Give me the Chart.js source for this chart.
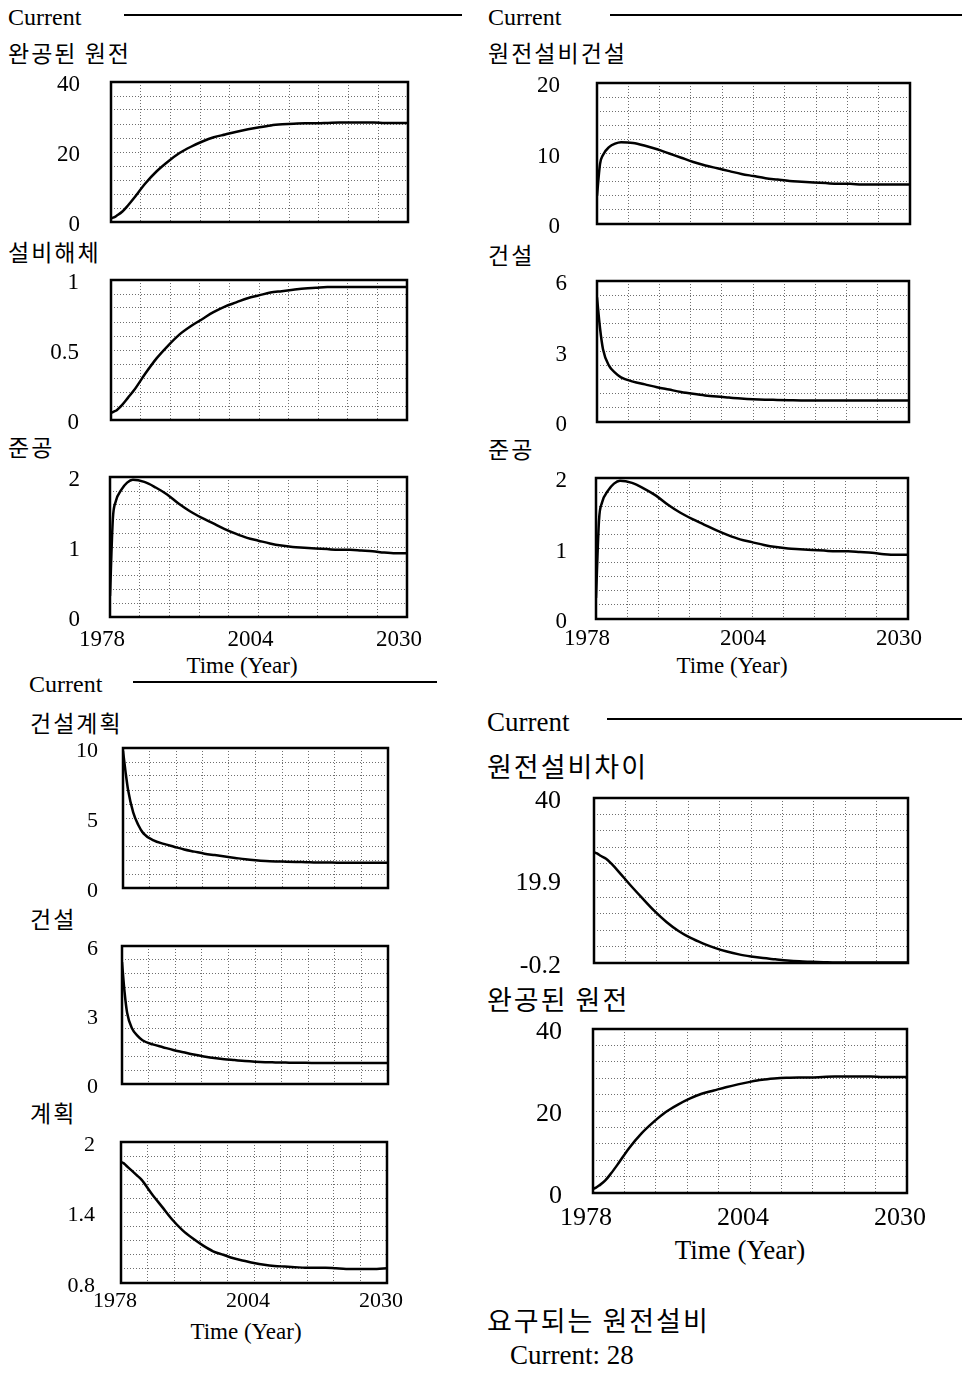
<!DOCTYPE html>
<html>
<head>
<meta charset="utf-8">
<script src="https://cdn.jsdelivr.net/npm/chart.js@4.4.0/dist/chart.umd.min.js"></script>
<style>
  body { margin: 0; background: #fff; width: 965px; height: 1373px; position: relative; overflow: hidden; }
  .t { position: absolute; font-family: "Liberation Serif", serif; color: #000; white-space: nowrap; line-height: 1; transform: translateY(-50%); }
  .k { font-family: "Noto Sans CJK KR", sans-serif; letter-spacing: 2px; }
  .c { transform: translate(-50%, -50%); }
  .ln { position: absolute; height: 0; border-top: 2px solid #000; }
  canvas { position: absolute; }
</style>
</head>
<body>
<script>
// time axis (Year)
const years = [1978, 1978.5, 1979, 1980, 1981, 1982, 1984, 1986, 1988, 1990, 1992, 1994, 1996, 1998,
  2000, 2002, 2004, 2006, 2008, 2010, 2012, 2014, 2016, 2018, 2020, 2022, 2024, 2026, 2028, 2030];
const yearTicks = ["1978", "2004", "2030"];

// 완공된 원전
const completedPlants = [1.0, 1.3, 1.8, 3.0, 4.8, 6.8, 11.0, 14.5, 17.3, 19.7, 21.5, 23.0, 24.2, 25.0,
  25.8, 26.5, 27.1, 27.6, 27.9, 28.1, 28.2, 28.2, 28.3, 28.4, 28.4, 28.4, 28.4, 28.3, 28.3, 28.3];
const completedTicks = ["0", "20", "40"];

// 설비해체
const retirement = [0.05, 0.06, 0.07, 0.11, 0.16, 0.21, 0.33, 0.44, 0.53, 0.61, 0.67, 0.72, 0.77, 0.81,
  0.84, 0.87, 0.89, 0.91, 0.92, 0.93, 0.94, 0.945, 0.95, 0.95, 0.95, 0.95, 0.95, 0.95, 0.95, 0.95];
const retirementTicks = ["0", "0.5", "1"];

// 준공
const completion = [0.3, 1.4, 1.65, 1.82, 1.92, 1.96, 1.93, 1.85, 1.75, 1.62, 1.51, 1.42, 1.34, 1.26,
  1.19, 1.13, 1.09, 1.05, 1.02, 1.0, 0.99, 0.98, 0.97, 0.96, 0.96, 0.95, 0.94, 0.92, 0.91, 0.91];
const completionTicks = ["0", "1", "2"];

// 원전설비건설
const plantConstruction = [4.0, 8.5, 9.8, 10.9, 11.4, 11.6, 11.5, 11.1, 10.6, 10.0, 9.4, 8.8, 8.3, 7.9,
  7.5, 7.1, 6.8, 6.5, 6.3, 6.1, 6.0, 5.9, 5.8, 5.7, 5.7, 5.6, 5.6, 5.6, 5.6, 5.6];
const plantConstructionTicks = ["0", "10", "20"];

// 건설
const construction = [5.3, 4.0, 3.1, 2.4, 2.1, 1.9, 1.72, 1.6, 1.48, 1.38, 1.28, 1.2, 1.13, 1.08,
  1.04, 1.0, 0.97, 0.95, 0.94, 0.93, 0.92, 0.92, 0.91, 0.91, 0.91, 0.91, 0.91, 0.91, 0.91, 0.91];
const constructionTicks = ["0", "3", "6"];

// 건설계획
const constructionPlan = [9.8, 8.3, 7.0, 5.4, 4.5, 3.9, 3.4, 3.15, 2.95, 2.75, 2.6, 2.45, 2.35, 2.25,
  2.15, 2.05, 1.98, 1.93, 1.9, 1.88, 1.86, 1.84, 1.82, 1.82, 1.81, 1.81, 1.8, 1.8, 1.8, 1.8];
const constructionPlanTicks = ["0", "5", "10"];

// 계획
const plan = [1.83, 1.82, 1.8, 1.76, 1.72, 1.68, 1.56, 1.45, 1.34, 1.25, 1.18, 1.12, 1.07, 1.04,
  1.01, 0.99, 0.97, 0.955, 0.945, 0.94, 0.935, 0.93, 0.93, 0.93, 0.925, 0.92, 0.92, 0.92, 0.92, 0.925];
const planTicks = ["0.8", "1.4", "2"];

// 원전설비차이
const plantGap = [26.8, 26.5, 26.0, 25.2, 23.8, 22.2, 18.8, 15.6, 12.5, 9.8, 7.6, 5.9, 4.6, 3.5,
  2.6, 1.9, 1.4, 1.0, 0.7, 0.4, 0.2, 0.1, 0.0, -0.1, -0.1, -0.1, -0.1, -0.1, -0.1, -0.1];
const plantGapTicks = ["-0.2", "19.9", "40"];

// space round each plot box inside its canvas
const L = 90, T = 22, R = 40, BX = 46, B0 = 22;

const framePlugin = {
  id: "frame",
  afterDatasetsDraw(chart) {
    const { ctx, chartArea: a } = chart;
    ctx.save();
    ctx.lineWidth = 2.5;
    ctx.strokeStyle = "#000";
    ctx.strokeRect(a.left, a.top, a.right - a.left, a.bottom - a.top);
    ctx.restore();
  }
};

// keep label overflow from shrinking the plot box
function noOverflow(s) {
  s.paddingTop = 0;
  s.paddingBottom = 0;
  s.paddingLeft = 0;
  s.paddingRight = 0;
}

function drawPanel(p) {
  const [bx, by, bw, bh] = p.box;
  const canvas = document.createElement("canvas");
  canvas.width = bw + L + R;
  canvas.height = bh + T + (p.showX ? BX : B0);
  canvas.style.left = bx - L + "px";
  canvas.style.top = by - T + "px";
  document.body.appendChild(canvas);

  const yMin = Number(p.yTicks[0]);
  const yMax = Number(p.yTicks[2]);
  const tickFont = { family: "Liberation Serif", size: p.font };
  const grid = { color: "#6e6e6e", lineWidth: 1, drawTicks: false };
  const border = { display: false, dash: [1, 2] };

  return new Chart(canvas, {
    type: "line",
    data: {
      datasets: [{
        data: years.map((x, i) => ({ x, y: p.values[i] })),
        borderColor: "#000",
        borderWidth: 2.5,
        pointRadius: 0,
        cubicInterpolationMode: "monotone",
        fill: false
      }]
    },
    options: {
      responsive: false,
      animation: false,
      devicePixelRatio: 1,
      layout: { padding: { left: 0, top: T, right: R, bottom: p.showX ? 0 : B0 } },
      plugins: { legend: { display: false }, tooltip: { enabled: false } },
      scales: {
        x: {
          type: "linear", min: 1978, max: 2030, grid, border,
          afterFit: (s) => { s.height = p.showX ? BX : 0; noOverflow(s); },
          ticks: {
            display: !!p.showX, stepSize: 5.2, autoSkip: false, maxRotation: 0,
            color: "#000", font: tickFont, padding: p.xPad || 0, labelOffset: p.xShift || 0,
            callback: (v, i) => (i % 5 === 0 ? yearTicks[i / 5] || "" : "")
          }
        },
        y: {
          type: "linear", min: yMin, max: yMax, grid, border,
          afterFit: (s) => { s.width = L; noOverflow(s); },
          ticks: {
            stepSize: (yMax - yMin) / 10, autoSkip: false,
            color: "#000", font: tickFont, padding: p.yPad, labelOffset: 3,
            callback: (v, i) => (i % 5 === 0 ? p.yTicks[i / 5] || "" : "")
          }
        }
      }
    },
    plugins: [framePlugin]
  });
}

const panels = [
  { box: [111, 82, 297, 140], values: completedPlants, yTicks: completedTicks, font: 23, yPad: 31 },
  { box: [111, 280, 296, 140], values: retirement, yTicks: retirementTicks, font: 23, yPad: 32 },
  { box: [110, 477, 297, 140], values: completion, yTicks: completionTicks, font: 23, yPad: 30, showX: true, xPad: 9, xShift: -8 },
  { box: [597, 83, 313, 141], values: plantConstruction, yTicks: plantConstructionTicks, font: 23, yPad: 37 },
  { box: [597, 281, 312, 141], values: construction, yTicks: constructionTicks, font: 23, yPad: 30 },
  { box: [596, 478, 312, 141], values: completion, yTicks: completionTicks, font: 23, yPad: 29, showX: true, xPad: 6, xShift: -9 },
  { box: [123, 748, 265, 140], values: constructionPlan, yTicks: constructionPlanTicks, font: 22, yPad: 25 },
  { box: [122, 946, 266, 138], values: construction, yTicks: constructionTicks, font: 22, yPad: 24 },
  { box: [121, 1142, 266, 141], values: plan, yTicks: planTicks, font: 22, yPad: 26, showX: true, xPad: 5, xShift: -6 },
  { box: [594, 798, 314, 165], values: plantGap, yTicks: plantGapTicks, font: 26, yPad: 33 },
  { box: [593, 1029, 314, 164], values: completedPlants, yTicks: completedTicks, font: 26, yPad: 31, showX: true, xPad: 10, xShift: -7 }
];

// [text, x, y(centre), size, kind]  kind: k = Korean, c = centred
const texts = [
  ["Current", 8, 17, 24, ""],
  ["완공된 원전", 8, 52, 23, "k"],
  ["설비해체", 8, 251, 23, "k"],
  ["준공", 8, 446, 23, "k"],
  ["Time (Year)", 242, 665, 23, "c"],
  ["Current", 488, 17, 24, ""],
  ["원전설비건설", 488, 52, 23, "k"],
  ["건설", 488, 254, 23, "k"],
  ["준공", 488, 448, 23, "k"],
  ["Time (Year)", 732, 665, 23, "c"],
  ["Current", 29, 684, 24, ""],
  ["건설계획", 30, 722, 23, "k"],
  ["건설", 30, 918, 23, "k"],
  ["계획", 30, 1112, 23, "k"],
  ["Time (Year)", 246, 1331, 23, "c"],
  ["Current", 487, 722, 27, ""],
  ["원전설비차이", 487, 765, 27, "k"],
  ["완공된 원전", 487, 998, 27, "k"],
  ["Time (Year)", 740, 1250, 27, "c"],
  ["요구되는 원전설비", 487, 1319, 27, "k"],
  ["Current: 28", 510, 1355, 27, ""]
];
// legend line samples next to "Current": [x1, x2, y]
const legendLines = [[124, 462, 14], [610, 962, 14], [133, 437, 681], [607, 962, 718]];

texts.forEach(([s, x, y, size, kind]) => {
  const d = document.createElement("div");
  d.className = "t" + (kind ? " " + kind : "");
  d.textContent = s;
  d.style.left = x + "px";
  d.style.top = y + "px";
  d.style.fontSize = size + "px";
  document.body.appendChild(d);
});
legendLines.forEach(([x1, x2, y]) => {
  const d = document.createElement("div");
  d.className = "ln";
  d.style.left = x1 + "px";
  d.style.top = y + "px";
  d.style.width = x2 - x1 + "px";
  document.body.appendChild(d);
});

panels.forEach(drawPanel);
</script>
</body>
</html>
